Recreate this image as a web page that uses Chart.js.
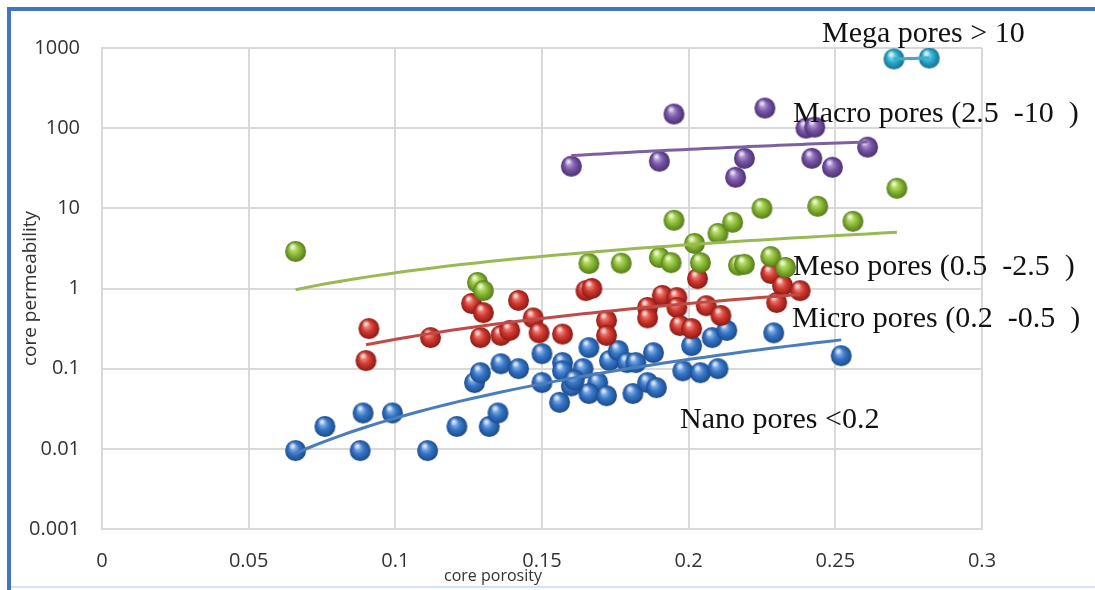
<!DOCTYPE html>
<html>
<head>
<meta charset="utf-8">
<title>core porosity vs core permeability</title>
<script src="https://cdn.jsdelivr.net/npm/chart.js@4.4.1/dist/chart.umd.min.js"></script>
<style>
  html, body { margin: 0; padding: 0; background: #fff; }
  #wrap { position: relative; width: 1095px; height: 590px; }
</style>
</head>
<body>
<div id="wrap"><canvas id="poreChart" width="1095" height="590"></canvas></div>
<script>
// values: porosity (fraction) and permeability for each pore class
const nanoPorosity = [0.066, 0.076, 0.089, 0.088, 0.099, 0.111, 0.121, 0.132, 0.135, 0.127, 0.129, 0.136,
  0.142, 0.150, 0.157, 0.157, 0.150, 0.156, 0.164, 0.166, 0.173, 0.176, 0.179, 0.182, 0.188, 0.169,
  0.166, 0.172, 0.181, 0.186, 0.189, 0.160, 0.161, 0.198, 0.204, 0.210, 0.201, 0.208, 0.213, 0.229, 0.252];
const nanoPerm = [0.0095, 0.019, 0.028, 0.0095, 0.028, 0.0095, 0.019, 0.019, 0.028, 0.067, 0.089, 0.115,
  0.10, 0.154, 0.119, 0.094, 0.067, 0.038, 0.10, 0.183, 0.126, 0.168, 0.119, 0.119, 0.158, 0.067,
  0.049, 0.046, 0.049, 0.067, 0.058, 0.061, 0.072, 0.094, 0.089, 0.10, 0.194, 0.244, 0.30, 0.28, 0.145];

const microPorosity = [0.091, 0.090, 0.112, 0.126, 0.130, 0.129, 0.136, 0.139, 0.142, 0.147, 0.149, 0.157,
  0.165, 0.167, 0.172, 0.172, 0.186, 0.186, 0.191, 0.196, 0.196, 0.197, 0.201, 0.206, 0.211, 0.203,
  0.228, 0.232, 0.238, 0.230];
const microPerm = [0.316, 0.126, 0.244, 0.65, 0.50, 0.244, 0.26, 0.30, 0.71, 0.43, 0.28, 0.27,
  0.94, 1.0, 0.40, 0.26, 0.58, 0.43, 0.82, 0.77, 0.58, 0.345, 0.316, 0.61, 0.46, 1.33,
  1.54, 1.09, 0.94, 0.67];

const mesoPorosity = [0.066, 0.128, 0.130, 0.166, 0.177, 0.190, 0.194, 0.195, 0.202, 0.204, 0.210, 0.215,
  0.225, 0.244, 0.256, 0.271, 0.217, 0.219, 0.228, 0.233];
const mesoPerm = [2.9, 1.19, 0.94, 2.05, 2.07, 2.44, 2.1, 7.1, 3.65, 2.1, 4.87, 6.7,
  10, 10.6, 6.9, 17.8, 1.95, 2.0, 2.5, 1.83];

const macroPorosity = [0.160, 0.195, 0.190, 0.226, 0.219, 0.216, 0.240, 0.243, 0.242, 0.249, 0.261];
const macroPerm = [33.5, 150, 38.7, 178, 42, 24.4, 100, 103, 42, 32.5, 58];

const megaPorosity = [0.270, 0.282];
const megaPerm = [730, 750];

const xTicks = [0, 0.05, 0.1, 0.15, 0.2, 0.25, 0.3];
const xTickLabels = ['0', '0.05', '0.1', '0.15', '0.2', '0.25', '0.3'];
const yTicks = [0.001, 0.01, 0.1, 1, 10, 100, 1000];
const yTickLabels = ['0.001', '0.01', '0.1', '1', '10', '100', '1000'];

const classNames = ['Nano pores <0.2', 'Micro pores (0.2  -0.5  )', 'Meso pores (0.5  -2.5  )',
  'Macro pores (2.5  -10  )', 'Mega pores > 10'];

// shaded sphere used as the marker
function makeBall(light, mid, dark) {
  const r = 10.5;
  const c = document.createElement('canvas');
  c.width = c.height = 23;
  const g = c.getContext('2d');
  const cx = 11.5, cy = 11.5;
  const grad = g.createRadialGradient(cx - 3, cy - 4, 0.5, cx, cy, r);
  grad.addColorStop(0, light);
  grad.addColorStop(0.5, mid);
  grad.addColorStop(1, dark);
  g.fillStyle = grad;
  g.beginPath();
  g.arc(cx, cy, r, 0, Math.PI * 2);
  g.fill();
  const spot = g.createRadialGradient(cx - 3, cy - 5, 0, cx - 3, cy - 5, 4);
  spot.addColorStop(0, 'rgba(255,255,255,0.75)');
  spot.addColorStop(1, 'rgba(255,255,255,0)');
  g.fillStyle = spot;
  g.beginPath();
  g.arc(cx, cy, r, 0, Math.PI * 2);
  g.fill();
  return c;
}

// power-law trendline, like the spreadsheet's "power" fit
function powerFit(xs, ys) {
  let sx = 0, sy = 0, sxx = 0, sxy = 0;
  const n = xs.length;
  for (let i = 0; i < n; i++) {
    const lx = Math.log(xs[i]), ly = Math.log(ys[i]);
    sx += lx; sy += ly; sxx += lx * lx; sxy += lx * ly;
  }
  const b = (n * sxy - sx * sy) / (n * sxx - sx * sx);
  const a = Math.exp((sy - b * sx) / n);
  return x => a * Math.pow(x, b);
}

function trendPoints(xs, ys) {
  const f = powerFit(xs, ys);
  const lo = Math.min(...xs), hi = Math.max(...xs);
  const pts = [];
  for (let i = 0; i <= 40; i++) {
    const x = lo + (hi - lo) * i / 40;
    pts.push({ x: x, y: f(x) });
  }
  return pts;
}

function toPoints(xs, ys) {
  return xs.map((x, i) => ({ x: x, y: ys[i] }));
}

const series = [
  { xs: nanoPorosity, ys: nanoPerm, line: '#4a7ebb', ball: makeBall('#a9c8f0', '#3676c8', '#1c4a8a') },
  { xs: microPorosity, ys: microPerm, line: '#be4b48', ball: makeBall('#f4a49c', '#d33a30', '#8a1a15') },
  { xs: mesoPorosity, ys: mesoPerm, line: '#98b954', ball: makeBall('#d6f09c', '#8cbd36', '#557a1a') },
  { xs: macroPorosity, ys: macroPerm, line: '#7d60a0', ball: makeBall('#c9b5e4', '#7a58aa', '#4a2f70') },
  { xs: megaPorosity, ys: megaPerm, line: '#46aac5', ball: makeBall('#a8e8f6', '#2badd0', '#16708a') }
];

const datasets = [];
series.forEach((s, i) => {
  datasets.push({
    label: classNames[i],
    data: toPoints(s.xs, s.ys),
    pointStyle: s.ball,
    pointRadius: 10,
    showLine: false,
    order: 20 - i
  });
  datasets.push({
    label: classNames[i] + ' trend',
    data: trendPoints(s.xs, s.ys),
    showLine: true,
    pointRadius: 0,
    borderColor: s.line,
    borderWidth: 3,
    tension: 0,
    order: 1
  });
});

const notes = [
  { text: 'Mega pores > 10', left: 822, base: 42 },
  { text: 'Macro pores (2.5  -10  )', left: 793, base: 122 },
  { text: 'Meso pores (0.5  -2.5  )', left: 793, base: 275 },
  { text: 'Micro pores (0.2  -0.5  )', left: 792, base: 327 },
  { text: 'Nano pores <0.2', left: 680, base: 428 }
];

const framePlugin = {
  id: 'framePlugin',
  beforeDraw(chart) {
    const ctx = chart.ctx;
    ctx.save();
    ctx.fillStyle = '#ffffff';
    ctx.fillRect(0, 0, chart.width, chart.height);
    ctx.fillStyle = '#4472c4';
    ctx.fillRect(7, 7, chart.width - 7, 4);
    ctx.fillRect(7, 7, 4, chart.height - 7);
    ctx.fillStyle = '#d3e4f3';
    ctx.fillRect(11, 586, chart.width - 11, 2);
    ctx.restore();
  },
  afterDraw(chart) {
    const ctx = chart.ctx;
    const area = chart.chartArea;
    ctx.save();
    ctx.fillStyle = '#333333';
    ctx.font = '16px "Open Sans"';
    ctx.textAlign = 'center';
    ctx.textBaseline = 'middle';
    ctx.fillText('core porosity', 493, 576);
    ctx.translate(31, (area.top + area.bottom) / 2);
    ctx.rotate(-Math.PI / 2);
    ctx.font = '19px "Open Sans"';
    ctx.fillText('core permeability', 0, 0);
    ctx.restore();

    ctx.save();
    ctx.fillStyle = '#111111';
    ctx.font = '30px "Liberation Serif"';
    ctx.textAlign = 'left';
    ctx.textBaseline = 'alphabetic';
    notes.forEach(n => ctx.fillText(n.text, n.left, n.base));
    ctx.restore();
  }
};

new Chart(document.getElementById('poreChart'), {
  type: 'scatter',
  data: { datasets: datasets },
  options: {
    responsive: false,
    animation: false,
    devicePixelRatio: 1,
    events: [],
    layout: { padding: { top: 48, right: 113, left: 0, bottom: 0 } },
    plugins: { legend: { display: false }, tooltip: { enabled: false } },
    scales: {
      x: {
        type: 'linear',
        min: 0,
        max: 0.3,
        afterFit: s => { s.height = 61; },
        afterBuildTicks: s => { s.ticks = xTicks.map(v => ({ value: v })); },
        ticks: {
          padding: 20,
          color: '#333333',
          font: { family: 'Open Sans', size: 20 },
          maxRotation: 0,
          callback: (v, i) => xTickLabels[i]
        },
        grid: { color: '#d9d9d9', lineWidth: 2, drawTicks: false },
        border: { color: '#d9d9d9', width: 2 }
      },
      y: {
        type: 'logarithmic',
        min: 0.001,
        max: 1000,
        afterFit: s => { s.width = 102; },
        afterBuildTicks: s => { s.ticks = yTicks.map(v => ({ value: v })); },
        ticks: {
          padding: 22,
          color: '#333333',
          font: { family: 'Open Sans', size: 20 },
          callback: (v, i) => yTickLabels[i]
        },
        grid: { color: '#d9d9d9', lineWidth: 2, drawTicks: false },
        border: { color: '#d9d9d9', width: 2 }
      }
    }
  },
  plugins: [framePlugin]
});
</script>
</body>
</html>
